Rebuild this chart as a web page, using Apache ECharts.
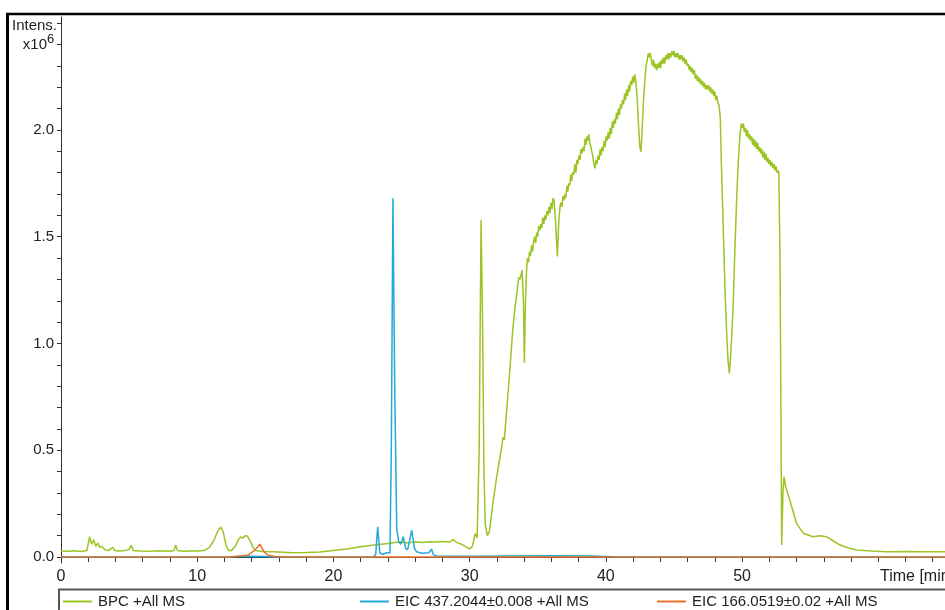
<!DOCTYPE html>
<html><head><meta charset="utf-8">
<script src="https://cdn.jsdelivr.net/npm/echarts@6/dist/echarts.min.js"></script>
<style>html,body{margin:0;padding:0;background:#fff}#c{width:945px;height:610px}</style>
</head><body><div id="c"></div>
<script>
// ---- data (time in min, intensity in 10^6) ----
const seriesNames = ['BPC +All MS', 'EIC 437.2044±0.008 +All MS', 'EIC 166.0519±0.02 +All MS'];
const xTickValues = [0,2,4,6,8,10,12,14,16,18,20,22,24,26,28,30,32,34,36,38,40,42,44,46,48,50,52,54,56,58,60,62,64];
const xLabelValues = [0,10,20,30,40,50];
const yTickValues = [0,0.1,0.2,0.3,0.4,0.5,0.6,0.7,0.8,0.9,1.0,1.1,1.2,1.3,1.4,1.5,1.6,1.7,1.8,1.9,2.0,2.1,2.2,2.3,2.4,2.5];
const yLabelValues = [0,0.5,1.0,1.5,2.0];

const bpc = [
[0,0.028],[0.5,0.027],[1.0,0.029],[1.5,0.026],[1.9,0.03],[2.1,0.095],[2.25,0.06],[2.4,0.08],[2.55,0.05],[2.7,0.065],[2.85,0.045],[3.0,0.05],[3.2,0.035],[3.5,0.03],[3.8,0.045],[3.95,0.03],[4.3,0.028],[4.7,0.03],[5.0,0.035],[5.15,0.055],[5.3,0.03],[5.8,0.028],[6.5,0.027],[7.2,0.029],[8.0,0.027],[8.3,0.03],[8.42,0.056],[8.55,0.03],[9.0,0.027],[9.5,0.028],[10.0,0.028],[10.5,0.03],[10.9,0.045],[11.2,0.075],[11.5,0.12],[11.72,0.14],[11.9,0.12],[12.1,0.06],[12.3,0.03],[12.5,0.03],[12.8,0.05],[13.0,0.08],[13.2,0.095],[13.35,0.088],[13.5,0.1],[13.7,0.097],[13.9,0.075],[14.1,0.045],[14.3,0.03],[14.8,0.026],[15.5,0.025],[16.0,0.024],[17.0,0.02],[18.0,0.021],[19.0,0.024],[20.0,0.03],[21.0,0.038],[22.0,0.048],[23.0,0.056],[23.5,0.06],[24.0,0.063],[24.5,0.068],[25.0,0.07],[25.5,0.066],[26.0,0.072],[26.5,0.068],[27.0,0.072],[27.5,0.07],[28.0,0.073],[28.5,0.07],[28.8,0.082],[29.0,0.07],[29.4,0.06],[29.8,0.045],[30.0,0.038],[30.2,0.05],[30.4,0.11],[30.55,0.09],[30.7,0.5],[30.84,1.58],[30.95,1.1],[31.05,0.4],[31.15,0.15],[31.3,0.1],[31.45,0.12],[31.74,0.267],[32.0,0.38],[32.36,0.517],[32.45,0.56],[32.55,0.55],[32.97,0.89],[33.15,1.05],[33.33,1.17],[33.5,1.25],[33.6,1.31],[33.7,1.30],[33.85,1.344],[33.95,1.2],[34.02,0.91],[34.1,1.2],[34.19,1.36],
[34.25,1.40],[34.33,1.38],[34.4,1.43],[34.47,1.41],[34.55,1.46],[34.62,1.43],[34.7,1.48],[34.77,1.50],[34.85,1.47],[34.92,1.52],[35.0,1.50],[35.07,1.55],[35.15,1.53],[35.22,1.56],[35.3,1.54],[35.37,1.59],[35.45,1.56],[35.52,1.60],[35.6,1.58],[35.67,1.62],[35.75,1.60],[35.82,1.64],[35.9,1.61],[35.97,1.66],[36.05,1.63],[36.12,1.68],[36.2,1.67],[36.3,1.58],[36.44,1.407],[36.55,1.58],[36.64,1.64],
[36.7,1.66],[36.78,1.64],[36.85,1.69],[36.92,1.67],[37.0,1.70],[37.05,1.68],[37.15,1.74],[37.2,1.71],[37.28,1.75],[37.35,1.74],[37.42,1.79],[37.5,1.76],[37.55,1.80],[37.65,1.79],[37.72,1.84],[37.8,1.80],[37.88,1.86],[37.95,1.84],[38.02,1.88],[38.1,1.86],[38.17,1.91],[38.25,1.89],[38.33,1.92],[38.4,1.90],[38.48,1.96],[38.55,1.93],[38.62,1.97],[38.7,1.95],[38.75,1.98],[38.82,1.94],[38.9,1.92],[39.0,1.89],[39.1,1.85],[39.2,1.82],[39.28,1.86],[39.35,1.84],[39.42,1.88],[39.5,1.86],[39.58,1.91],[39.65,1.88],[39.72,1.92],[39.8,1.90],[39.88,1.95],[39.95,1.92],[40.02,1.97],[40.1,1.95],[40.17,1.99],[40.25,1.96],[40.32,2.01],[40.4,1.98],[40.48,2.04],[40.55,2.01],[40.62,2.05],[40.7,2.03],[40.78,2.08],[40.85,2.05],[40.92,2.10],[41.0,2.07],[41.08,2.12],[41.15,2.10],[41.22,2.14],[41.3,2.12],[41.38,2.17],[41.45,2.14],[41.52,2.19],[41.6,2.16],[41.68,2.21],[41.75,2.18],[41.82,2.23],[41.9,2.21],[41.97,2.25],[42.05,2.22],[42.12,2.26],[42.2,2.23],[42.3,2.15],[42.4,2.02],[42.5,1.92],[42.58,1.898],[42.65,1.98],[42.75,2.12],[42.85,2.22],[42.95,2.30],
[43.05,2.33],[43.12,2.36],[43.2,2.34],[43.27,2.36],[43.35,2.32],[43.42,2.30],[43.5,2.33],[43.57,2.29],[43.65,2.31],[43.72,2.28],[43.8,2.31],[43.87,2.29],[43.95,2.32],[44.02,2.29],[44.1,2.33],[44.17,2.31],[44.25,2.34],[44.32,2.31],[44.4,2.35],[44.47,2.33],[44.55,2.36],[44.62,2.33],[44.7,2.36],[44.77,2.34],[44.85,2.37],[44.92,2.35],[45.0,2.37],[45.07,2.34],[45.15,2.36],[45.22,2.34],[45.3,2.36],[45.37,2.33],[45.45,2.35],[45.52,2.33],[45.6,2.35],[45.67,2.32],[45.75,2.34],[45.82,2.31],[45.9,2.33],[45.97,2.30],[46.05,2.31],[46.12,2.28],[46.2,2.30],[46.27,2.27],[46.35,2.29],[46.42,2.26],[46.5,2.28],[46.57,2.24],[46.65,2.26],[46.72,2.23],[46.8,2.25],[46.87,2.22],[46.95,2.24],[47.02,2.21],[47.1,2.23],[47.17,2.20],[47.25,2.22],[47.32,2.19],[47.4,2.21],[47.47,2.19],[47.55,2.21],[47.62,2.18],[47.7,2.20],[47.77,2.17],[47.85,2.19],[47.92,2.16],[48.0,2.18],[48.07,2.14],[48.15,2.16],[48.22,2.13],[48.3,2.12],
[48.4,2.06],[48.5,1.8],[48.63,1.52],[48.75,1.25],[48.87,1.05],[48.97,0.92],[49.07,0.86],[49.2,0.98],[49.36,1.2],[49.48,1.45],[49.6,1.67],[49.72,1.85],[49.85,1.98],[49.95,2.03],
[50.02,2.01],[50.1,2.03],[50.17,1.99],[50.25,2.01],[50.32,1.97],[50.4,2.00],[50.47,1.96],[50.55,1.98],[50.62,1.95],[50.7,1.97],[50.77,1.93],[50.85,1.96],[50.92,1.92],[51.0,1.95],[51.07,1.91],[51.15,1.94],[51.22,1.90],[51.3,1.92],[51.37,1.89],[51.45,1.91],[51.52,1.87],[51.6,1.90],[51.67,1.86],[51.75,1.89],[51.82,1.85],[51.9,1.87],[51.97,1.84],[52.05,1.86],[52.12,1.83],[52.2,1.85],[52.27,1.82],[52.35,1.84],[52.42,1.81],[52.5,1.83],[52.57,1.80],[52.65,1.81],[52.7,1.80],
[52.79,1.39],[52.91,0.056],[53.0,0.3],[53.08,0.376],[53.2,0.33],[53.5,0.267],[54.0,0.158],[54.5,0.111],[55.2,0.095],[55.7,0.1],[56.2,0.095],[56.7,0.075],[57.2,0.056],[57.8,0.042],[58.4,0.033],[59.5,0.028],[60.6,0.025],[62.0,0.026],[63.5,0.025],[65.0,0.025]
];

const eic437 = [
[0,0],[12.3,0],[13.0,0.003],[14.0,0.004],[15.0,0.003],[15.6,0],[22.9,0],[23.1,0.01],[23.25,0.142],[23.4,0.02],[23.6,0.012],[23.9,0.02],[24.15,0.02],[24.25,0.5],[24.37,1.68],[24.5,0.8],[24.65,0.13],[24.8,0.07],[24.95,0.06],[25.13,0.095],[25.3,0.04],[25.45,0.035],[25.75,0.126],[25.95,0.04],[26.1,0.025],[26.5,0.018],[27.0,0.02],[27.2,0.037],[27.35,0.01],[27.6,0.005],[30.0,0.004],[33.0,0.005],[36.0,0.006],[39.0,0.005],[40.0,0.003],[41.0,0],[52.9,0],[53.0,0.007],[53.2,0],[65.0,0]
];

const eic166 = [
[0,0],[12.3,0],[13.0,0.004],[13.75,0.01],[14.2,0.03],[14.6,0.06],[14.9,0.025],[15.2,0.008],[15.7,0.002],[16.2,0],[65.0,0]
];

const colors = ['#9cc424', '#22a9d8', '#e8702a'];
const FONT = '"Liberation Sans", Arial, sans-serif';

const chart = echarts.init(document.getElementById('c'), null, {renderer: 'canvas'});

function legendAt(name, left, color) {
  return {
    left: left, top: 594, itemWidth: 29, itemHeight: 2, icon: 'rect',
    padding: 0, itemGap: 0,
    data: [{name: name, itemStyle: {color: color}}],
    textStyle: {fontFamily: FONT, fontSize: 15, color: '#222', padding: [0, 0, 0, 1]},
    selectedMode: false
  };
}

chart.setOption({
  animation: false,
  backgroundColor: '#fff',
  grid: {left: 61, right: 0, top: 17, bottom: 47, containLabel: false},
  legend: [
    legendAt(seriesNames[0], 63, colors[0]),
    legendAt(seriesNames[1], 360, colors[1]),
    legendAt(seriesNames[2], 657, colors[2])
  ],
  xAxis: {
    type: 'value', min: 0, max: 64.9,
    axisLine: {show: true, lineStyle: {color: '#333', width: 1}},
    axisTick: {show: true, inside: false, length: 5, customValues: xTickValues, lineStyle: {color: '#333'}},
    axisLabel: {customValues: xLabelValues, margin: 6, fontFamily: FONT, fontSize: 16, color: '#222'},
    splitLine: {show: false}
  },
  yAxis: {
    type: 'value', min: -0.028, max: 2.529,
    axisLine: {show: true, lineStyle: {color: '#333', width: 1}},
    axisTick: {show: true, inside: false, length: 4, customValues: yTickValues, lineStyle: {color: '#333'}},
    axisLabel: {customValues: yLabelValues, margin: 7, fontFamily: FONT, fontSize: 15, color: '#222',
      formatter: v => v.toFixed(1)},
    splitLine: {show: false}
  },
  graphic: [
    {type: 'line', shape: {x1: 7.5, y1: 13, x2: 7.5, y2: 610}, style: {stroke: '#000', lineWidth: 3}},
    {type: 'line', shape: {x1: 6, y1: 14, x2: 945, y2: 14}, style: {stroke: '#000', lineWidth: 2.5}},
    {type: 'rect', shape: {x: 59, y: 589.5, width: 900, height: 40}, style: {fill: 'none', stroke: '#555', lineWidth: 2}},
    {type: 'text', x: 57, y: 26, style: {text: 'Intens.', fontFamily: FONT, fontSize: 15, fill: '#222', align: 'right', verticalAlign: 'middle'}},
    {type: 'text', x: 47, y: 45, style: {text: 'x10', fontFamily: FONT, fontSize: 15, fill: '#222', align: 'right', verticalAlign: 'middle'}},
    {type: 'text', x: 47, y: 39, style: {text: '6', fontFamily: FONT, fontSize: 13, fill: '#222', align: 'left', verticalAlign: 'middle'}},
    {type: 'text', x: 880, y: 577, style: {text: 'Time [min]', fontFamily: FONT, fontSize: 16, fill: '#222', align: 'left', verticalAlign: 'middle'}}
  ],
  series: [
    {name: seriesNames[0], type: 'line', data: bpc, symbol: 'none', lineStyle: {color: colors[0], width: 1.5}, itemStyle: {color: colors[0]}, z: 2},
    {name: seriesNames[1], type: 'line', data: eic437, symbol: 'none', lineStyle: {color: colors[1], width: 1.5}, itemStyle: {color: colors[1]}, z: 3},
    {name: seriesNames[2], type: 'line', data: eic166, symbol: 'none', lineStyle: {color: colors[2], width: 1.5}, itemStyle: {color: colors[2]}, z: 4}
  ]
});
</script>
</body></html>
